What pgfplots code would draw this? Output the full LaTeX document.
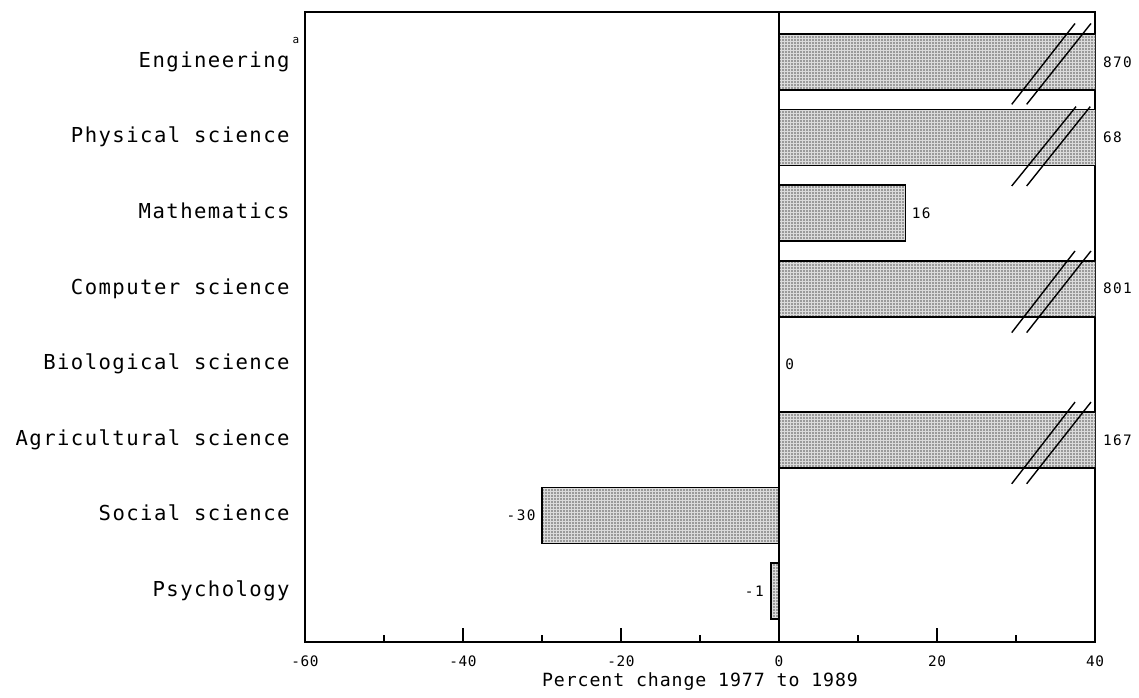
\documentclass[border=0pt]{standalone}
\usepackage{fontspec}
\setmainfont{DejaVu Sans Mono}
\newfontfamily\catfontfam[LetterSpace=7]{DejaVu Sans Mono}
\newfontfamily\labfontfam[LetterSpace=5]{DejaVu Sans Mono}
\newfontfamily\valfontfam[LetterSpace=10]{DejaVu Sans Mono}
\newfontfamily\tickfontfam[LetterSpace=4]{DejaVu Sans Mono}
\newcommand\catf{\catfontfam\fontsize{10.3pt}{12pt}\selectfont}
\newcommand\labf{\labfontfam\fontsize{9.1pt}{11pt}\selectfont}
\newcommand\valf{\valfontfam\fontsize{7.2pt}{8pt}\selectfont}
\newcommand\tickf{\tickfontfam\fontsize{7.2pt}{8pt}\selectfont}
\usepackage{pgfplots}
\pgfplotsset{compat=1.18}
\usetikzlibrary{patterns}
\pgfdeclarepatternformonly{finedots}{\pgfqpoint{-0.5pt}{-0.5pt}}{\pgfqpoint{0.5pt}{0.5pt}}{\pgfqpoint{1.5pt}{1.5pt}}{%
  \pgfpathcircle{\pgfqpoint{0pt}{0pt}}{0.42pt}\pgfusepath{fill}}
\begin{document}
\begin{tikzpicture}
\useasboundingbox (-152.5pt,-27.65pt) rectangle (417pt,320.85pt);
\begin{axis}[
  scale only axis, width=395pt, height=315pt,
  xmin=-60, xmax=40, ymin=-0.67, ymax=7.666,
  clip mode=individual,
  axis line style={line width=0.9pt},
  xtick={-60,-40,-20,0,20,40},
  xticklabels={-60,-40,-20,0,20,40},
  minor xtick={-50,-30,-10,10,30},
  xtick pos=lower, tick align=inside,
  major tick length=7pt, minor tick length=3.5pt,
  every tick/.style={black, line width=0.6pt},
  xticklabel style={font=\tickf, anchor=north, inner sep=0pt},
  xticklabel shift=7.0pt,
  ytick={0,1,2,3,4,5,6,7},
  yticklabels={Psychology, Social science, Agricultural science, Biological science, Computer science, Mathematics, Physical science, {Engineering\rlap{\hspace{1.5pt}\raisebox{12pt}{\fontsize{5.5pt}{6pt}\selectfont a}}}},
  ytick style={draw=none},
  yticklabel style={font=\catf, anchor=base east, inner sep=0pt, yshift=-2.65pt},
  yticklabel shift=7.5pt,
  xlabel={Percent change 1977 to 1989},
  xlabel style={font=\labf, at={(axis description cs:0.5,0)}, anchor=base, yshift=-22.3pt, inner sep=0pt},
]
\addplot[xbar, bar width=0.741, draw=black, line width=0.85pt, fill=gray!28,
  postaction={pattern=finedots, pattern color=black!65}]
  coordinates {(870,7) (68,6) (16,5) (801,4) (0,3) (167,2) (-30,1) (-1,0)};
\draw[line width=0.9pt] (axis cs:0,-0.67) -- (axis cs:0,7.666);
% break marks
\draw[line width=0.7pt] (axis cs:29.46,6.44) -- (axis cs:37.47,7.51);
\draw[line width=0.7pt] (axis cs:31.35,6.44) -- (axis cs:39.49,7.51);
\draw[line width=0.7pt] (axis cs:29.46,5.36) -- (axis cs:37.6,6.41);
\draw[line width=0.7pt] (axis cs:31.35,5.36) -- (axis cs:39.4,6.41);
\draw[line width=0.7pt] (axis cs:29.46,3.42) -- (axis cs:37.47,4.5);
\draw[line width=0.7pt] (axis cs:31.35,3.42) -- (axis cs:39.49,4.5);
\draw[line width=0.7pt] (axis cs:29.46,1.42) -- (axis cs:37.47,2.5);
\draw[line width=0.7pt] (axis cs:31.35,1.42) -- (axis cs:39.49,2.5);
% value labels
\node[font=\valf, anchor=west, inner sep=0pt, xshift=3.8pt] at (axis cs:40,7) {870};
\node[font=\valf, anchor=west, inner sep=0pt, xshift=3.8pt] at (axis cs:40,6) {68};
\node[font=\valf, anchor=west, inner sep=0pt, xshift=3pt] at (axis cs:16,5) {16};
\node[font=\valf, anchor=west, inner sep=0pt, xshift=3.8pt] at (axis cs:40,4) {801};
\node[font=\valf, anchor=west, inner sep=0pt, xshift=3pt] at (axis cs:0,3) {0};
\node[font=\valf, anchor=west, inner sep=0pt, xshift=3.8pt] at (axis cs:40,2) {167};
\node[font=\valf, anchor=east, inner sep=0pt, xshift=-3pt] at (axis cs:-30,1) {-30};
\node[font=\valf, anchor=east, inner sep=0pt, xshift=-3.5pt] at (axis cs:-1,0) {-1};
\end{axis}
\end{tikzpicture}
\end{document}
